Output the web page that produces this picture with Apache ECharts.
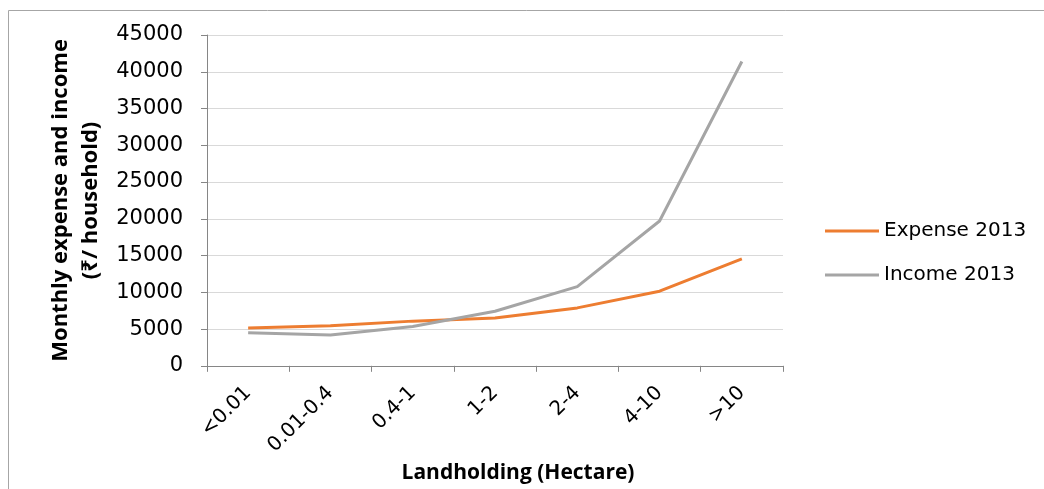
<!DOCTYPE html>
<html>
<head>
<meta charset="utf-8">
<script src="https://cdn.jsdelivr.net/npm/echarts@6/dist/echarts.min.js"></script>
<style>html,body{margin:0;padding:0;background:#fff;}#c{width:1044px;height:489px;}</style>
</head>
<body>
<div id="c"></div>
<script>
const categories = ['<0.01', '0.01-0.4', '0.4-1', '1-2', '2-4', '4-10', '>10'];
const expense2013 = [5130, 5450, 6080, 6490, 7880, 10150, 14550];
const income2013 = [4500, 4190, 5360, 7430, 10770, 19700, 41400];
const yTicks = { min: 0, max: 45000, interval: 5000 };

const TFONT = "'DejaVu Sans','Noto Sans',sans-serif";
const BFONT = "'Open Sans','Noto Sans','DejaVu Sans',sans-serif";
const chart = echarts.init(document.getElementById('c'));
chart.setOption({
  animation: false,
  backgroundColor: '#fff',
  textStyle: { fontFamily: TFONT },
  grid: { left: 207, right: 261, top: 35, bottom: 113, containLabel: false },
  legend: {
    orient: 'vertical', left: 825, top: 220, padding: 0,
    itemWidth: 54, itemHeight: 3, itemGap: 22, icon: 'rect',
    textStyle: { fontSize: 20, lineHeight: 22, color: '#000', fontFamily: TFONT },
    data: ['Expense 2013', 'Income 2013']
  },
  xAxis: {
    type: 'category', data: categories, boundaryGap: true,
    axisLine: { lineStyle: { color: '#868686', width: 1 } },
    axisTick: { show: true, length: 6, lineStyle: { color: '#868686' } },
    axisLabel: { rotate: 45, fontSize: 20, color: '#000', fontFamily: TFONT, margin: 24 },
    name: 'Landholding (Hectare)', nameLocation: 'middle', nameGap: 92,
    nameTextStyle: { fontSize: 21, fontWeight: 'bold', color: '#000', fontFamily: BFONT, padding: [0, 0, 0, 46] }
  },
  yAxis: {
    type: 'value', min: yTicks.min, max: yTicks.max, interval: yTicks.interval,
    axisLine: { show: true, lineStyle: { color: '#868686', width: 1 } },
    axisTick: { show: true, length: 6, lineStyle: { color: '#868686' } },
    axisLabel: { fontSize: 21, color: '#000', fontFamily: TFONT, margin: 24, padding: [5, 0, 0, 0], formatter: v => String(v) },
    splitLine: { lineStyle: { color: '#d9d9d9', width: 1 } },
    name: 'Monthly expense and income\n(₹/ household)', nameLocation: 'middle', nameGap: 101,
    nameTextStyle: { fontSize: 22, fontWeight: 'bold', color: '#000', fontFamily: BFONT, lineHeight: 30 }
  },
  series: [
    { name: 'Expense 2013', type: 'line', data: expense2013, symbol: 'none',
      lineStyle: { color: '#ED7D31', width: 3 }, itemStyle: { color: '#ED7D31' } },
    { name: 'Income 2013', type: 'line', data: income2013, symbol: 'none',
      lineStyle: { color: '#A5A5A5', width: 3 }, itemStyle: { color: '#A5A5A5' } }
  ],
  graphic: [
    { type: 'line', shape: { x1: 8.5, y1: 10.5, x2: 1044, y2: 10.5 }, style: { stroke: '#a6a6a6', lineWidth: 1 }, silent: true },
    { type: 'line', shape: { x1: 8.5, y1: 10.5, x2: 8.5, y2: 489 }, style: { stroke: '#a6a6a6', lineWidth: 1 }, silent: true }
  ]
});
</script>
</body>
</html>
